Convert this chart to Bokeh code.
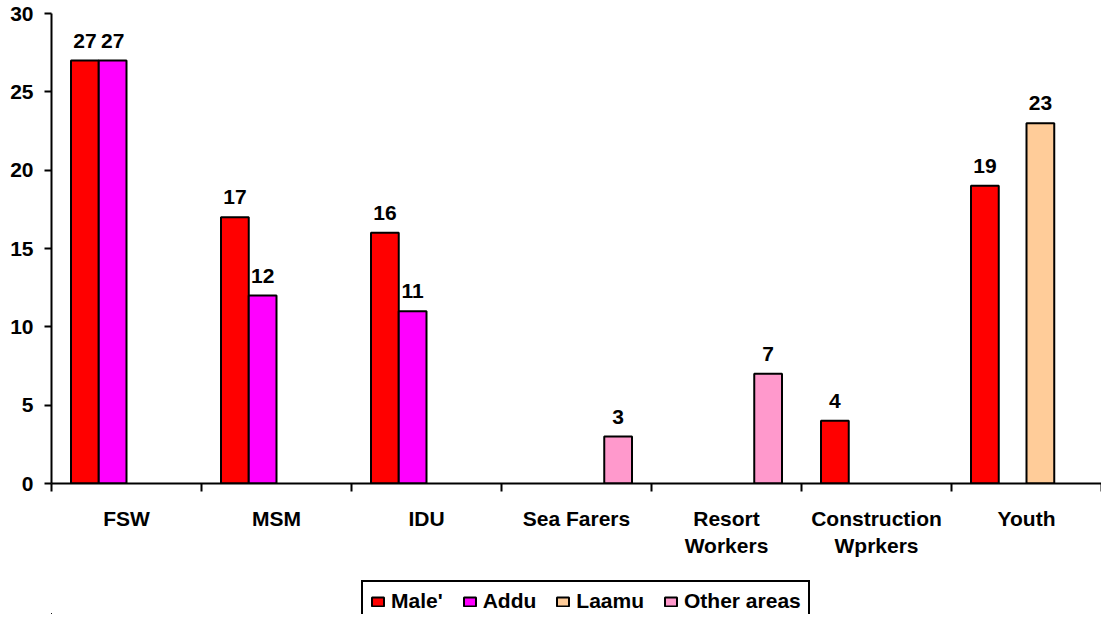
from bokeh.plotting import figure
from bokeh.layouts import column
from bokeh.models import Range1d, FixedTicker, Legend, LegendItem, ColumnDataSource
from bokeh.core.properties import value
from bokeh.embed import file_html
from bokeh.resources import INLINE

categories = ["FSW", "MSM", "IDU", "Sea Farers", "Resort\nWorkers", "Construction\nWprkers", "Youth"]
series_names = ["Male'", "Addu", "Laamu", "Other areas"]
male = [27, 17, 16, 0, 0, 4, 19]
addu = [27, 12, 11, 0, 0, 0, 0]
laamu = [0, 0, 0, 0, 0, 0, 23]
other = [0, 0, 0, 3, 7, 0, 0]
y_ticks = [0, 5, 10, 15, 20, 25, 30]

series_values = [male, addu, laamu, other]
colors = ["#FF0000", "#FF00FF", "#FFCC99", "#FF99CC"]
offsets = [-0.2775, -0.0925, 0.0925, 0.2775]
bar_w = 0.185
FONT = "Liberation Sans"
FS = "21px"
W = 1101
H_MAIN = 575
H_LEG = 39

p = figure(width=W, height=H_MAIN, output_backend="svg", toolbar_location=None,
           x_range=Range1d(0, len(categories)), y_range=Range1d(0, 30),
           min_border_left=51, min_border_right=0, min_border_top=13,
           min_border_bottom=H_MAIN - 483)
p.outline_line_color = None
p.xgrid.visible = False
p.ygrid.visible = False
p.background_fill_color = "white"
p.border_fill_color = "white"

# y axis
p.yaxis.ticker = FixedTicker(ticks=y_ticks)
p.yaxis.axis_line_width = 2
p.yaxis.major_tick_line_width = 2
p.yaxis.major_tick_out = 7
p.yaxis.major_tick_in = 0
p.yaxis.minor_tick_line_color = None
p.yaxis.major_label_standoff = 11
p.yaxis.major_label_text_font = FONT
p.yaxis.major_label_text_font_style = "bold"
p.yaxis.major_label_text_font_size = FS
p.yaxis.major_label_text_color = "black"

# x axis: labels at category centres, ticks at category boundaries
centers = [i + 0.5 for i in range(len(categories))]
bounds = [float(i) for i in range(len(categories) + 1)]
p.xaxis.ticker = FixedTicker(ticks=centers, minor_ticks=bounds)
p.xaxis.major_label_overrides = {c: lab for c, lab in zip(centers, categories)}
p.xaxis.axis_line_width = 2
p.xaxis.major_tick_line_color = None
p.xaxis.major_tick_out = 0
p.xaxis.major_tick_in = 0
p.xaxis.minor_tick_line_width = 2
p.xaxis.minor_tick_out = 8
p.xaxis.minor_tick_in = 0
p.xaxis.major_label_standoff = 15
p.xaxis.major_label_text_font = FONT
p.xaxis.major_label_text_font_style = "bold"
p.xaxis.major_label_text_font_size = FS
p.xaxis.major_label_text_color = "black"

# legend-only strip underneath (its ranges keep the proxy bars far out of view)
leg = figure(width=W, height=H_LEG, output_backend="svg", toolbar_location=None,
             x_range=Range1d(1000, 1007), y_range=Range1d(1000, 1001),
             min_border_left=0, min_border_right=0, min_border_top=0, min_border_bottom=0)
leg.axis.visible = False
leg.xgrid.visible = False
leg.ygrid.visible = False
leg.outline_line_color = None
leg.background_fill_color = "white"
leg.border_fill_color = "white"

items = []
for name, vals, col, off in zip(series_names, series_values, colors, offsets):
    xs = [c + off for c, v in zip(centers, vals) if v]
    ys = [v for v in vals if v]
    src = ColumnDataSource(dict(x=xs, top=ys, label=[str(v) for v in ys]))
    p.vbar(x="x", top="top", bottom=0, width=bar_w, source=src,
           fill_color=col, line_color="black", line_width=2)
    p.text(x="x", y="top", text="label", source=src, text_align="center",
           text_baseline="alphabetic", y_offset=-20, text_font=value(FONT),
           text_font_style="bold", text_font_size=FS, text_color="black")
    lr = leg.vbar(x="x", top="top", bottom=0, width=bar_w, source=src,
                  fill_color=col, line_color="black", line_width=2)
    items.append(LegendItem(label=name, renderers=[lr]))

legend = Legend(items=items, orientation="horizontal", location=(310, -8))
legend.border_line_color = "black"
legend.border_line_alpha = 1
legend.border_line_width = 2
legend.background_fill_color = "white"
legend.background_fill_alpha = 1
legend.padding = 7
legend.margin = 0
legend.spacing = 19
legend.label_standoff = 6
legend.glyph_width = 15
legend.glyph_height = 11
legend.label_text_font = FONT
legend.label_text_font_style = "bold"
legend.label_text_font_size = FS
legend.label_text_color = "black"
leg.add_layout(legend)

layout = column(p, leg, spacing=0)
open("out.html", "w").write(file_html(layout, INLINE))
